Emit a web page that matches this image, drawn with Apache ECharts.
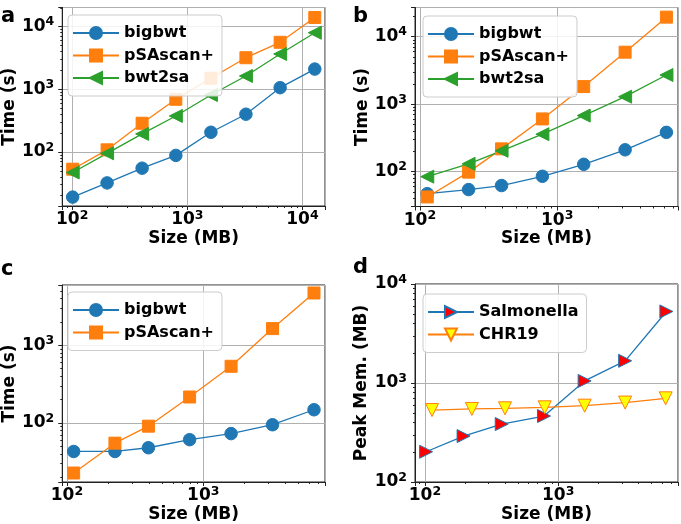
<!DOCTYPE html>
<html>
<head>
<meta charset="utf-8">
<script src="https://cdn.jsdelivr.net/npm/echarts@6/dist/echarts.min.js"></script>
<style>
  html, body { margin: 0; padding: 0; background: #fff; }
  #chart { width: 681px; height: 524px; }
</style>
</head>
<body>
<div id="chart"></div>
<script>
// panel a
var sizesA = [101, 201, 405, 795, 1603, 3228, 6400, 12800];
var bigbwtA = [19, 32, 55, 88, 206, 400, 1060, 2100];
var pSAscanA = [53, 108, 287, 692, 1500, 3190, 5620, 14000];
var bwt2saA = [47, 95, 194, 375, 811, 1630, 3660, 8000];
// panel b
var sizesB = [113, 226, 393, 780, 1560, 3125, 6250];
var bigbwtB = [47, 54, 62, 85, 128, 210, 381];
var pSAscanB = [42, 98, 217, 603, 1820, 5890, 19500];
var bwt2saB = [84, 130, 203, 358, 676, 1290, 2700];
// panel c
var sizesC = [112, 225, 396, 794, 1600, 3220, 6490];
var bigbwtC = [43, 43, 48, 61, 73, 95, 148];
var pSAscanC = [22.7, 55, 91, 216, 537, 1640, 4710];
// panel d
var sizesSalmonella = [102, 195, 377, 783, 1580, 3180, 6490];
var salmonellaMem = [202, 291, 385, 464, 1050, 1675, 5280];
var sizesChr19 = [113, 225, 399, 792, 1580, 3180, 6410];
var chr19Mem = [533, 547, 555, 568, 590, 634, 700];

var panelLetters = ['a', 'b', 'c', 'd'];

var myChart = echarts.init(document.getElementById('chart'));

var FONT = 'DejaVu Sans';

function pairs(xs, ys) {
    return xs.map(function (x, i) { return [x, ys[i]]; });
}

// 10^n in the style of matplotlib mathtext
function powLabel(v) {
    var e = Math.log10(v);
    var r = Math.round(e);
    if (Math.abs(e - r) > 1e-6) return '';
    return '{b|10}{e|' + r + '}';
}
var labelRich = {
    b: { fontFamily: FONT, fontWeight: 'bold', fontSize: 17, lineHeight: 22, color: '#000' },
    e: { fontFamily: FONT, fontWeight: 'bold', fontSize: 12.5, lineHeight: 13, verticalAlign: 'top', color: '#000' }
};

var grids = [
    { left: 61, top: 7.5, width: 264, height: 198.5 },
    { left: 415, top: 7.5, width: 265, height: 199 },
    { left: 61, top: 285, width: 264, height: 197 },
    { left: 415, top: 284, width: 265, height: 198.7 }
];
grids.forEach(function (g) {
    g.show = true;
    g.borderColor = '#222';
    g.borderWidth = 1;
    g.backgroundColor = 'transparent';
});

var xRanges = [[82, 15700], [92, 7590], [92.4, 7816], [84.2, 7930]];
var yRanges = [[13.7, 20200], [30.3, 27100], [17.4, 5970], [100, 10000]];
var yNames = ['Time (s)', 'Time (s)', 'Time (s)', 'Peak Mem. (MB)'];

function axisCommon() {
    return {
        type: 'log',
        logBase: 10,
        axisLine: { show: true, onZero: false, lineStyle: { color: '#222', width: 1 } },
        axisTick: { show: true, inside: false, length: 4, lineStyle: { color: '#222' } },
        minorTick: { show: true, splitNumber: 9, length: 2, lineStyle: { color: '#222' } },
        splitLine: { show: true, lineStyle: { color: '#b0b0b0', width: 1 } },
        axisLabel: {
            formatter: powLabel,
            rich: labelRich,
            showMinLabel: true,
            showMaxLabel: true
        },
        nameLocation: 'middle',
        nameTextStyle: { color: '#000', fontFamily: FONT, fontWeight: 'bold', fontSize: 17 }
    };
}

var xAxes = xRanges.map(function (r, i) {
    var a = axisCommon();
    a.gridIndex = i;
    a.min = r[0];
    a.max = r[1];
    a.name = 'Size (MB)';
    a.nameGap = 24;
    a.axisLabel.margin = 3;
    return a;
});
var yAxes = yRanges.map(function (r, i) {
    var a = axisCommon();
    a.gridIndex = i;
    a.min = r[0];
    a.max = r[1];
    a.name = yNames[i];
    a.nameGap = i === 3 ? 45 : 43;
    a.axisLabel.margin = 8;
    return a;
});

function lineSeries(name, idx, data, color, symbol, size, rotate) {
    return {
        name: name,
        type: 'line',
        xAxisIndex: idx,
        yAxisIndex: idx,
        data: data,
        symbol: symbol,
        symbolSize: size,
        symbolRotate: rotate || 0,
        showAllSymbol: true,
        itemStyle: { color: color, borderColor: color, borderWidth: 1 },
        lineStyle: { color: color, width: 1.3 },
        emphasis: { disabled: true }
    };
}

var blue = '#1f77b4', orange = '#ff7f0e', green = '#2ca02c';

var series = [
    lineSeries('bigbwt', 0, pairs(sizesA, bigbwtA), blue, 'circle', 12.5),
    lineSeries('pSAscan+', 0, pairs(sizesA, pSAscanA), orange, 'rect', 12),
    lineSeries('bwt2sa', 0, pairs(sizesA, bwt2saA), green, 'triangle', 13, 90),
    lineSeries('bigbwt', 1, pairs(sizesB, bigbwtB), blue, 'circle', 12.5),
    lineSeries('pSAscan+', 1, pairs(sizesB, pSAscanB), orange, 'rect', 12),
    lineSeries('bwt2sa', 1, pairs(sizesB, bwt2saB), green, 'triangle', 13, 90),
    lineSeries('bigbwt', 2, pairs(sizesC, bigbwtC), blue, 'circle', 12.5),
    lineSeries('pSAscan+', 2, pairs(sizesC, pSAscanC), orange, 'rect', 12)
];
var salm = lineSeries('Salmonella', 3, pairs(sizesSalmonella, salmonellaMem), blue, 'triangle', 13, -90);
salm.itemStyle = { color: '#ff0000', borderColor: blue, borderWidth: 1 };
var chr = lineSeries('CHR19', 3, pairs(sizesChr19, chr19Mem), orange, 'triangle', 13, 180);
chr.itemStyle = { color: '#ffff00', borderColor: orange, borderWidth: 1 };
series.push(salm, chr);

function legendBox(names, left, top) {
    return {
        data: names,
        orient: 'vertical',
        left: left,
        top: top,
        itemWidth: 46,
        itemHeight: 15,
        itemGap: 6.5,
        padding: [10, 8, 10, 4],
        backgroundColor: 'rgba(255,255,255,0.85)',
        borderColor: '#cccccc',
        borderWidth: 1,
        borderRadius: 4,
        selectedMode: false,
        textStyle: { color: '#000', fontFamily: FONT, fontWeight: 'bold', fontSize: 16 }
    };
}

var legends = [
    legendBox(['bigbwt', 'pSAscan+', 'bwt2sa'], 68, 15),
    legendBox(['bigbwt', 'pSAscan+', 'bwt2sa'], 423, 16),
    legendBox(['bigbwt', 'pSAscan+'], 68, 292),
    legendBox(['Salmonella', 'CHR19'], 423, 294)
];

var letterPos = [[1, 22], [353, 22], [1, 275], [353, 273]];
var graphics = panelLetters.map(function (t, i) {
    return {
        type: 'text',
        left: letterPos[i][0],
        top: letterPos[i][1] - 16,
        style: { text: t, fill: '#000', font: 'bold 21px "DejaVu Sans"' }
    };
});

option = {
    animation: false,
    backgroundColor: '#fff',
    grid: grids,
    xAxis: xAxes,
    yAxis: yAxes,
    legend: legends,
    graphic: graphics,
    series: series
};
myChart.setOption(option);
</script>
</body>
</html>
